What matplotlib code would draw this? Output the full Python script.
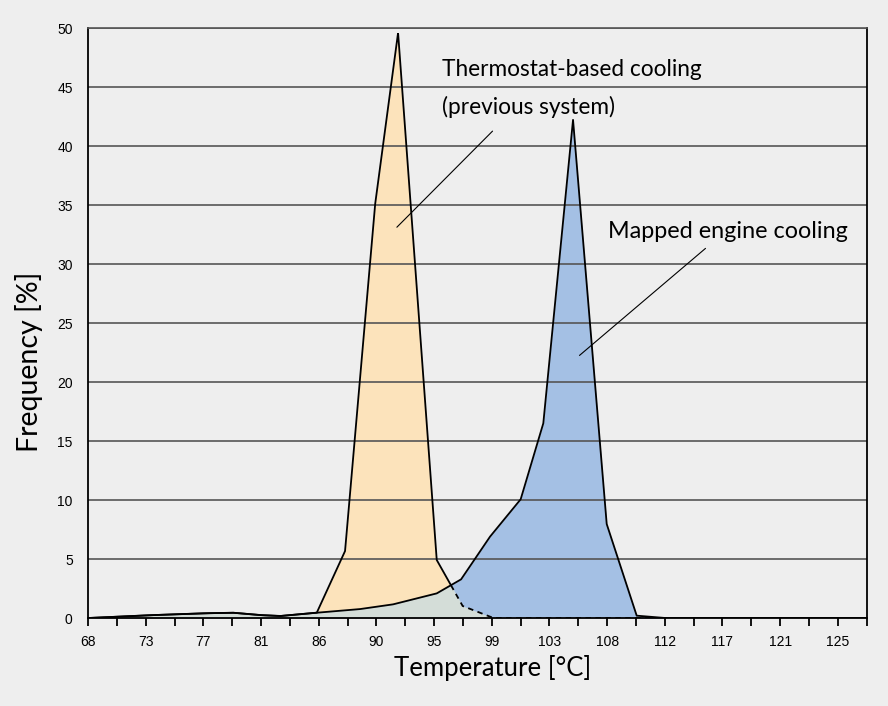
import numpy as np
import matplotlib
matplotlib.use("Agg")
import matplotlib.pyplot as plt

# ---- data -------------------------------------------------------------
# Mapped engine cooling (blue)
mapped_temp = [68.0, 72.49, 76.74, 79.02, 81.08, 82.6, 85.39, 88.68, 91.19,
               94.51, 96.36, 98.56, 100.89, 102.61, 104.87, 107.43, 109.71, 111.92]
mapped_freq = [0.0, 0.23, 0.40, 0.45, 0.25, 0.17, 0.45, 0.76, 1.16,
               2.09, 3.28, 6.9, 10.07, 16.51, 42.24, 7.97, 0.2, 0.0]

# Thermostat-based cooling (orange)
thermo_temp = [68.0, 72.49, 76.74, 79.02, 81.08, 82.6, 85.39, 87.54, 89.82,
               91.57, 94.51, 96.48, 98.81]
thermo_freq = [0.0, 0.23, 0.40, 0.45, 0.25, 0.17, 0.45, 5.68, 35.03,
               49.62, 4.92, 1.02, 0.0]

tick_labels = ["68", "73", "77", "81", "86", "90", "95", "99", "103",
               "108", "112", "117", "121", "125"]
y_ticks = [0, 5, 10, 15, 20, 25, 30, 35, 40, 45, 50]

# ---- styling ----------------------------------------------------------
bg = "#eeeeee"
c_orange = "#fce3bb"
c_blue = "#a4c0e4"
c_overlap = "#d4ddd8"
title_font = "Lato"

fig = plt.figure(figsize=(8.88, 7.06), dpi=100, facecolor=bg)
ax = fig.add_axes([0.0991, 0.1246, 0.8769, 0.8353], facecolor=bg)

x_min = 68.0
step = 57.0 / 26.0
x_max = x_min + 27 * step
ax.set_xlim(x_min, x_max)
ax.set_ylim(0, 50)

# dense grid for rendering overlap
tf = np.linspace(x_min, x_max, 4000)
o = np.interp(tf, thermo_temp, thermo_freq, left=0, right=0)
b = np.interp(tf, mapped_temp, mapped_freq, left=0, right=0)

ax.fill_between(thermo_temp, thermo_freq, 0, color=c_orange, lw=0, zorder=1)
ax.fill_between(mapped_temp, mapped_freq, 0, color=c_blue, lw=0, zorder=1.1)
ax.fill_between(tf, np.minimum(o, b), 0, color=c_overlap, lw=0, zorder=1.2)

# grid lines above fills
for yv in y_ticks[1:]:
    ax.axhline(yv, color="#555555", lw=1.2, zorder=2)

# orange outline: solid where visible, dashed where hidden behind blue
vis = np.where(o >= b - 1e-9, o, np.nan)
hid = np.where(o < b - 1e-9, o, np.nan)
ax.plot(tf, vis, color="black", lw=1.3, zorder=3, solid_joinstyle="miter")
ax.plot(tf, hid, color="black", lw=1.3, ls=(0, (3, 2.5)), zorder=3)
# blue outline
ax.plot(mapped_temp, mapped_freq, color="black", lw=1.3, zorder=3.1)

# ticks
xt = [x_min + k * step for k in range(28)]
ax.set_xticks(xt)
ax.set_xticklabels([tick_labels[k // 2] if k % 2 == 0 and k // 2 < len(tick_labels) else ""
                    for k in range(28)], fontsize=10, family="Liberation Sans")
ax.tick_params(axis="x", direction="out", length=6, width=1.3, pad=6, color="black")
ax.set_yticks(y_ticks)
ax.set_yticklabels([str(v) for v in y_ticks], fontsize=10, family="Liberation Sans")
ax.tick_params(axis="y", length=0, pad=11)

for s in ["left", "right", "bottom", "top"]:
    ax.spines[s].set_linewidth(1.3)
    ax.spines[s].set_color("black")
ax.spines["top"].set_color("#555555")
ax.spines["top"].set_linewidth(1.2)

ax.set_xlabel("Temperature [°C]", fontsize=18.5, family=title_font)
ax.set_ylabel("Frequency [%]", fontsize=20.5, family=title_font)
ax.xaxis.set_label_coords(0.52, -0.063)
ax.yaxis.set_label_coords(-0.058, 0.434)

# annotations
ax.annotate("", xy=(91.33, (618 - 229.3) / 11.79), xytext=(98.9, (618 - 129.3) / 11.79),
            arrowprops=dict(arrowstyle="-", lw=0.8, color="black"), zorder=4)
ax.text(94.9, 46.5, "Thermostat-based cooling", fontsize=16.3, family=title_font,
        ha="left", va="center", zorder=4)
ax.text(94.9, 43.3, "(previous system)", fontsize=16.3, family=title_font,
        ha="left", va="center", zorder=4)
ax.annotate("", xy=(105.2, (618 - 357.3) / 11.79), xytext=(115.1, (618 - 246.7) / 11.79),
            arrowprops=dict(arrowstyle="-", lw=0.8, color="black"), zorder=4)
ax.text(107.5, 32.75, "Mapped engine cooling", fontsize=16.8, family=title_font,
        ha="left", va="center", zorder=4)

fig.savefig("out.png", dpi=100, facecolor=bg)
